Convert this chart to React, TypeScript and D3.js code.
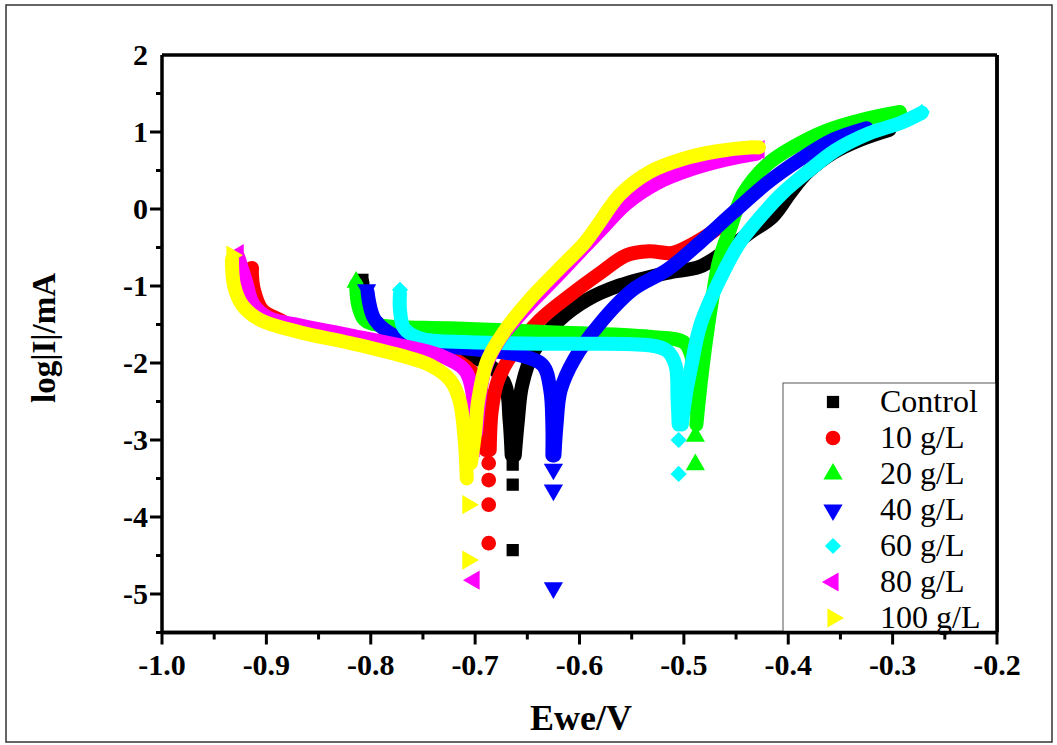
import React from "react";
import * as d3 from "d3";

const W = 1057;
const H = 745;

const xTicks = [-1.0, -0.9, -0.8, -0.7, -0.6, -0.5, -0.4, -0.3, -0.2];
const yTicks = [2, 1, 0, -1, -2, -3, -4, -5];
const xTickLabels = ["-1.0", "-0.9", "-0.8", "-0.7", "-0.6", "-0.5", "-0.4", "-0.3", "-0.2"];
const yTickLabels = ["2", "1", "0", "-1", "-2", "-3", "-4", "-5"];

const seriesNames = ["Control", "10 g/L", "20 g/L", "40 g/L", "60 g/L", "80 g/L", "100 g/L"];
const seriesColors = ["#000000", "#ff0000", "#00ff00", "#0000ff", "#00ffff", "#ff00ff", "#ffff00"];
const seriesSymbols = ["square", "circle", "up", "down", "diamond", "left", "right"];

type P = [number, number];

// Control
const controlCath: P[] = [[-0.808, -0.95], [-0.805, -1.25], [-0.791, -1.51], [-0.753, -1.70], [-0.715, -1.86], [-0.686, -2.03], [-0.671, -2.29], [-0.667, -2.74], [-0.665, -3.2]];
const controlAnod: P[] = [[-0.662, -3.2], [-0.659, -2.74], [-0.655, -2.29], [-0.643, -1.83], [-0.619, -1.44], [-0.593, -1.18], [-0.561, -0.99], [-0.516, -0.83], [-0.485, -0.75], [-0.463, -0.57], [-0.437, -0.31], [-0.415, -0.10], [-0.398, 0.21], [-0.382, 0.47], [-0.357, 0.73], [-0.331, 0.90], [-0.303, 1.03]];
const controlPts: P[] = [[-0.808, -0.92], [-0.664, -3.32], [-0.664, -3.58], [-0.664, -4.43]];

// 10 g/L
const red10Cath: P[] = [[-0.914, -0.8], [-0.912, -1.05], [-0.904, -1.31], [-0.887, -1.44], [-0.868, -1.57], [-0.81, -1.68], [-0.753, -1.83], [-0.715, -1.99], [-0.697, -2.22], [-0.692, -2.61], [-0.69, -3.13]];
const red10Anod: P[] = [[-0.686, -3.13], [-0.684, -2.61], [-0.678, -2.22], [-0.662, -1.83], [-0.638, -1.44], [-0.609, -1.12], [-0.580, -0.83], [-0.555, -0.60], [-0.533, -0.55], [-0.511, -0.57], [-0.491, -0.45], [-0.475, -0.32], [-0.465, -0.22]];
const red10Pts: P[] = [[-0.914, -0.77], [-0.687, -3.30], [-0.687, -3.52], [-0.687, -3.84], [-0.687, -4.34]];

// 20 g/L
const green20Cath: P[] = [[-0.814, -0.98], [-0.812, -1.25], [-0.806, -1.44], [-0.791, -1.51], [-0.724, -1.55], [-0.628, -1.60], [-0.533, -1.66], [-0.500, -1.73], [-0.493, -1.90], [-0.491, -2.22], [-0.490, -2.6]];
const green20Anod: P[] = [[-0.488, -2.8], [-0.485, -2.4], [-0.480, -1.83], [-0.473, -1.18], [-0.466, -0.66], [-0.456, -0.27], [-0.443, 0.20], [-0.420, 0.58], [-0.396, 0.80], [-0.363, 1.02], [-0.329, 1.16], [-0.293, 1.26]];
const green20Pts: P[] = [[-0.814, -0.95], [-0.489, -2.95], [-0.489, -3.32]];

// 40 g/L
const blue40Cath: P[] = [[-0.803, -1.08], [-0.796, -1.44], [-0.772, -1.68], [-0.743, -1.76], [-0.695, -1.83], [-0.657, -1.90], [-0.635, -2.03], [-0.628, -2.35], [-0.626, -2.8], [-0.626, -3.2]];
const blue40Anod: P[] = [[-0.624, -3.2], [-0.622, -2.8], [-0.618, -2.35], [-0.605, -1.95], [-0.580, -1.48], [-0.549, -1.05], [-0.516, -0.79], [-0.485, -0.44], [-0.453, -0.05], [-0.420, 0.34], [-0.389, 0.64], [-0.357, 0.90], [-0.325, 1.05]];
const blue40Pts: P[] = [[-0.804, -1.05], [-0.625, -3.38], [-0.625, -3.65], [-0.625, -4.92]];

// 60 g/L
const cyan60Cath: P[] = [[-0.772, -1.1], [-0.772, -1.31], [-0.768, -1.55], [-0.753, -1.68], [-0.705, -1.73], [-0.628, -1.75], [-0.533, -1.77], [-0.516, -1.84], [-0.508, -2.03], [-0.506, -2.48], [-0.505, -2.8]];
const cyan60Anod: P[] = [[-0.502, -2.8], [-0.498, -2.4], [-0.493, -2.05], [-0.484, -1.50], [-0.465, -0.90], [-0.447, -0.45], [-0.429, -0.14], [-0.406, 0.20], [-0.380, 0.50], [-0.355, 0.76], [-0.323, 0.98], [-0.292, 1.12], [-0.272, 1.25]];
const cyan60Pts: P[] = [[-0.772, -1.05], [-0.505, -3.0], [-0.505, -3.44], [-0.272, 1.26]];

// 80 g/L
const mag80Cath: P[] = [[-0.927, -0.62], [-0.920, -0.92], [-0.912, -1.25], [-0.897, -1.42], [-0.868, -1.51], [-0.82, -1.64], [-0.772, -1.77], [-0.734, -1.90], [-0.710, -2.09], [-0.703, -2.35], [-0.702, -2.9]];
const mag80Anod: P[] = [[-0.699, -2.9], [-0.696, -2.5], [-0.691, -2.1], [-0.677, -1.70], [-0.652, -1.30], [-0.622, -0.88], [-0.597, -0.52], [-0.578, -0.25], [-0.555, 0.07], [-0.525, 0.34], [-0.492, 0.52], [-0.460, 0.64], [-0.430, 0.72]];
const mag80Pts: P[] = [[-0.927, -0.58], [-0.701, -3.1], [-0.701, -4.82], [-0.428, 0.77]];

// 100 g/L
const yel100Cath: P[] = [[-0.933, -0.65], [-0.931, -0.99], [-0.923, -1.25], [-0.906, -1.44], [-0.868, -1.60], [-0.82, -1.74], [-0.772, -1.90], [-0.743, -2.03], [-0.724, -2.22], [-0.715, -2.48], [-0.710, -3.0], [-0.708, -3.5]];
const yel100Anod: P[] = [[-0.704, -3.3], [-0.700, -2.9], [-0.697, -2.48], [-0.688, -1.96], [-0.671, -1.57], [-0.648, -1.18], [-0.619, -0.77], [-0.595, -0.44], [-0.580, -0.16], [-0.561, 0.19], [-0.533, 0.48], [-0.501, 0.65], [-0.468, 0.75], [-0.437, 0.80], [-0.428, 0.80]];
const yel100Pts: P[] = [[-0.933, -0.60], [-0.707, -3.84], [-0.707, -4.56]];

const bands: P[][][] = [
  [controlCath, controlAnod],
  [red10Cath, red10Anod],
  [green20Cath, green20Anod],
  [blue40Cath, blue40Anod],
  [cyan60Cath, cyan60Anod],
  [mag80Cath, mag80Anod],
  [yel100Cath, yel100Anod],
];
const sparse: P[][] = [controlPts, red10Pts, green20Pts, blue40Pts, cyan60Pts, mag80Pts, yel100Pts];

const X0 = 162, X1 = 997, Y0 = 55, Y1 = 632.5;
const x = d3.scaleLinear().domain([-1.0, -0.2]).range([X0, X1]);
const y = d3.scaleLinear().domain([-5.5, 2]).range([Y1, Y0]);

function symbolPath(kind: string): { d: string; rot: number } {
  const sz = 160;
  switch (kind) {
    case "square":
      return { d: d3.symbol(d3.symbolSquare, 150)() as string, rot: 0 };
    case "circle":
      return { d: d3.symbol(d3.symbolCircle, 170)() as string, rot: 0 };
    case "up":
      return { d: d3.symbol(d3.symbolTriangle, sz)() as string, rot: 0 };
    case "down":
      return { d: d3.symbol(d3.symbolTriangle, sz)() as string, rot: 180 };
    case "left":
      return { d: d3.symbol(d3.symbolTriangle, sz)() as string, rot: -90 };
    case "right":
      return { d: d3.symbol(d3.symbolTriangle, sz)() as string, rot: 90 };
    case "diamond":
      return { d: d3.symbol(d3.symbolSquare, 130)() as string, rot: 45 };
  }
  return { d: "", rot: 0 };
}

const line = d3
  .line<P>()
  .x((p) => x(p[0]))
  .y((p) => y(p[1]))
  .curve(d3.curveCatmullRom.alpha(0.5));

export default function App() {
  const minorX = d3.range(0, 17).map((i) => -1.0 + i * 0.05);
  const minorY = d3.range(0, 15).map((i) => -5.5 + i * 0.5);
  const font = "'Liberation Serif', 'Times New Roman', serif";
  return (
    <div style={{ position: "absolute", left: 0, top: 0 }}>
      <svg width={W} height={H} style={{ display: "block" }}>
        <rect x={0} y={0} width={W} height={H} fill="#fff" />
        <rect x={6} y={5} width={1046} height={737} fill="none" stroke="#333" strokeWidth={1.5} />
        {/* data bands */}
        {bands.map((br, si) => (
          <g key={"b" + si}>
            {br.map((pts, bi) => (
              <path
                key={bi}
                d={line(pts) as string}
                fill="none"
                stroke={seriesColors[si]}
                strokeWidth={14}
                strokeLinecap="round"
                strokeLinejoin="round"
              />
            ))}
            {sparse[si].map((p, pi) => {
              const s = symbolPath(seriesSymbols[si]);
              return (
                <path
                  key={"p" + pi}
                  d={s.d}
                  transform={`translate(${x(p[0])},${y(p[1])}) rotate(${s.rot})`}
                  fill={seriesColors[si]}
                />
              );
            })}
          </g>
        ))}
        {/* axes frame */}
        <g stroke="#000" strokeWidth={3.5} fill="none">
          <line x1={X0} y1={Y0} x2={X1} y2={Y0} />
          <line x1={X1} y1={Y0} x2={X1} y2={Y1} />
          <line x1={X0} y1={Y1} x2={X1} y2={Y1} />
          <line x1={X0} y1={Y0} x2={X0} y2={Y1 + 1.5} />
        </g>
        {/* ticks */}
        <g stroke="#000" strokeWidth={3}>
          {minorX.map((v, i) => (
            <line key={i} x1={x(v)} x2={x(v)} y1={Y1} y2={Y1 + (i % 2 === 0 ? 12 : 7)} />
          ))}
          {minorY.map((v, i) => (
            <line key={i} x1={X0} x2={X0 - (i % 2 === 1 ? 12 : 6)} y1={y(v)} y2={y(v)} />
          ))}
        </g>
        <g fontFamily={font} fontWeight="bold" fontSize={30} fill="#000">
          {xTicks.map((v, i) => (
            <text key={i} x={x(v)} y={675} textAnchor="middle">
              {xTickLabels[i]}
            </text>
          ))}
          {yTicks.map((v, i) => (
            <text key={i} x={148} y={y(v) + 10} textAnchor="end">
              {yTickLabels[i]}
            </text>
          ))}
        </g>
        <text x={581} y={730} textAnchor="middle" fontFamily={font} fontWeight="bold" fontSize={36}>
          Ewe/V
        </text>
        <text
          transform="translate(55,338) rotate(-90)"
          textAnchor="middle"
          fontFamily={font}
          fontWeight="bold"
          fontSize={33}
        >
          log|I|/mA
        </text>
        {/* legend */}
        <rect x={783} y={383} width={214} height={249} fill="#fff" stroke="#555" strokeWidth={1} />
        {seriesNames.map((n, i) => {
          const s = symbolPath(seriesSymbols[i]);
          const cy = 402 + i * 36;
          return (
            <g key={n}>
              <path d={s.d} transform={`translate(833,${cy}) rotate(${s.rot})`} fill={seriesColors[i]} />
              <text x={880} y={cy + 10} fontFamily={font} fontSize={32} fill="#000">
                {n}
              </text>
            </g>
          );
        })}
        <line x1={X1} y1={Y0} x2={X1} y2={Y1} stroke="#000" strokeWidth={3.5} />
        <line x1={X0} y1={Y1} x2={X1} y2={Y1} stroke="#000" strokeWidth={3.5} />
      </svg>
    </div>
  );
}
